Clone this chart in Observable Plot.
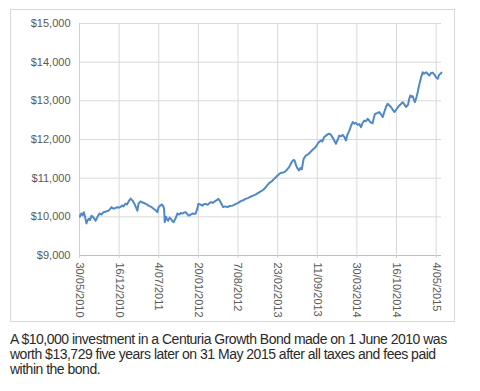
<!DOCTYPE html>
<html>
<head>
<meta charset="utf-8">
<script src="https://cdn.jsdelivr.net/npm/d3@7"></script>
<script src="https://cdn.jsdelivr.net/npm/@observablehq/plot@0.6"></script>
<style>
  html, body { margin: 0; padding: 0; background: #fff; }
  #page { position: relative; width: 480px; height: 391px; overflow: hidden; }
  #chart { position: absolute; left: 10px; top: 9px; }
  #frame { position: absolute; left: 10px; top: 9px; width: 443px; height: 311px; border: 1px solid #d9d9d9; pointer-events: none; }
  #caption {
    position: absolute; left: 10px; top: 332px; width: 455px;
    font-family: "Liberation Sans", Arial, sans-serif; font-size: 14px; line-height: 15px;
    color: #2a2a2a; letter-spacing: -0.5px;
  }
</style>
</head>
<body>
<div id="page">
  <div id="chart"></div>
  <div id="frame"></div>
  <div id="caption">A $10,000 investment in a Centuria Growth Bond made on 1 June 2010 was worth $13,729 five years later on 31 May 2015 after all taxes and fees paid within the bond.</div>
</div>
<script>
// Value of a $10,000 Centuria Growth Bond investment, 30/05/2010 – 31/05/2015
const startDate = "2010-05-30";
// days elapsed since startDate
const days = [
  2, 5, 10, 15, 22, 28, 35, 40, 47, 53, 61, 71, 81, 91, 101, 111, 121, 134, 147, 154,
  162, 172, 191, 202, 216, 222, 232, 240, 248, 258, 268, 278, 283, 292, 298, 308, 318, 329, 339, 349,
  361, 374, 384, 393, 399, 407, 415, 422, 427, 430, 437, 442, 448, 455, 463, 470, 475, 485, 494, 503,
  511, 519, 528, 536, 544, 551, 561, 570, 581, 586, 594, 600, 609, 620, 629, 637, 647, 655, 662, 672,
  683, 693, 701, 708, 715, 725, 736, 747, 758, 772, 781, 789, 801, 814, 827, 839, 852, 865, 877, 890,
  902, 915, 928, 940, 948, 957, 971, 982, 996, 1008, 1019, 1033, 1044, 1058, 1067, 1076, 1082, 1087, 1092, 1097,
  1102, 1108, 1115, 1122, 1131, 1142, 1155, 1168, 1178, 1191, 1202, 1208, 1218, 1226, 1234, 1244, 1254, 1260, 1269, 1279,
  1294, 1302, 1311, 1320, 1328, 1337, 1345, 1352, 1362, 1370, 1379, 1388, 1395, 1404, 1412, 1421, 1428, 1437, 1446, 1454,
  1461, 1467, 1479, 1486, 1491, 1501, 1513, 1522, 1530, 1539, 1547, 1555, 1564, 1572, 1580, 1589, 1598, 1605, 1614, 1623,
  1631, 1640, 1648, 1658, 1664, 1670, 1676, 1682, 1688, 1693, 1701, 1707, 1713, 1720, 1726, 1732, 1739, 1744, 1749, 1757,
  1766, 1774, 1782, 1791, 1799, 1808, 1812, 1816, 1822, 1827
];
// investment value in dollars
const values = [
  10000, 10060, 10085, 10040, 10120, 10000, 9830, 9900, 9950, 9920, 10030, 9980, 9900, 10000, 10085, 10060, 10120, 10140, 10160, 10200,
  10250, 10210, 10250, 10240, 10290, 10270, 10340, 10320, 10400, 10470, 10420, 10330, 10270, 10160, 10340, 10400, 10370, 10350, 10320, 10290,
  10260, 10210, 10170, 10120, 10250, 10290, 10320, 10280, 10210, 9860, 10000, 9930, 9900, 9980, 9940, 9880, 9860, 9960, 10085, 10060,
  10100, 10085, 10110, 10120, 10070, 10030, 10060, 10085, 10080, 10080, 10200, 10335, 10320, 10290, 10330, 10335, 10310, 10350, 10380, 10360,
  10400, 10430, 10465, 10420, 10350, 10250, 10270, 10250, 10280, 10290, 10310, 10335, 10360, 10405, 10430, 10465, 10490, 10525, 10550, 10580,
  10620, 10660, 10700, 10765, 10820, 10870, 10920, 10980, 11050, 11110, 11140, 11155, 11200, 11285, 11380, 11455, 11470, 11440, 11350, 11285,
  11240, 11200, 11260, 11230, 11500, 11585, 11620, 11690, 11740, 11800, 11890, 11930, 11975, 11950, 12060, 12100, 12140, 12150, 12120, 12040,
  11890, 11980, 12100, 12080, 12120, 12060, 11975, 12120, 12230, 12350, 12450, 12410, 12430, 12380, 12400, 12320, 12420, 12490, 12470, 12535,
  12500, 12450, 12420, 12560, 12660, 12680, 12710, 12650, 12580, 12720, 12840, 12925, 12880, 12840, 12780, 12710, 12770, 12820, 12880, 12920,
  12965, 12900, 12840, 12900, 13050, 13140, 13100, 13120, 13020, 12965, 13100, 13220, 13380, 13525, 13640, 13740, 13700, 13720, 13740, 13700,
  13655, 13720, 13730, 13680, 13610, 13570, 13630, 13680, 13700, 13729
];
// axis ticks
const xTickDays = [0, 200, 400, 600, 800, 1000, 1200, 1400, 1600, 1800];
const yTicks = [9000, 10000, 11000, 12000, 13000, 14000, 15000];
const endDay = 1827;

const t0 = new Date(startDate + "T00:00:00Z");
const toDate = (d) => d3.utcDay.offset(t0, d);
const series = days.map((d, i) => ({date: toDate(d), value: values[i]}));
const xTicks = xTickDays.map(toDate);

const chart = Plot.plot({
  width: 444,
  height: 312,
  marginLeft: 69,
  marginRight: 13,
  marginTop: 14,
  marginBottom: 66,
  style: {fontFamily: "'Liberation Sans', Arial, sans-serif", fontSize: "11px", color: "#595959", background: "transparent"},
  x: {type: "utc", domain: [t0, toDate(endDay)]},
  y: {domain: [9000, 15000]},
  marks: [
    Plot.gridY(yTicks, {stroke: "#d9d9d9", strokeOpacity: 1}),
    Plot.gridX(xTicks, {stroke: "#d9d9d9", strokeOpacity: 1}),
    Plot.ruleY([9000], {stroke: "#bfbfbf"}),
    Plot.ruleX([t0], {stroke: "#d0d0d0"}),
    Plot.axisY(yTicks, {tickSize: 0, tickPadding: 9, tickFormat: d3.format("$,"), label: null}),
    Plot.axisX(xTicks, {tickSize: 3, tickPadding: 4, tickRotate: 90, stroke: "#d0d0d0", tickFormat: d3.utcFormat("%-d/%m/%Y"), label: null}),
    Plot.line(series, {x: "date", y: "value", stroke: "#4f89c6", strokeWidth: 2})
  ]
});
document.getElementById("chart").appendChild(chart);
</script>
</body>
</html>
